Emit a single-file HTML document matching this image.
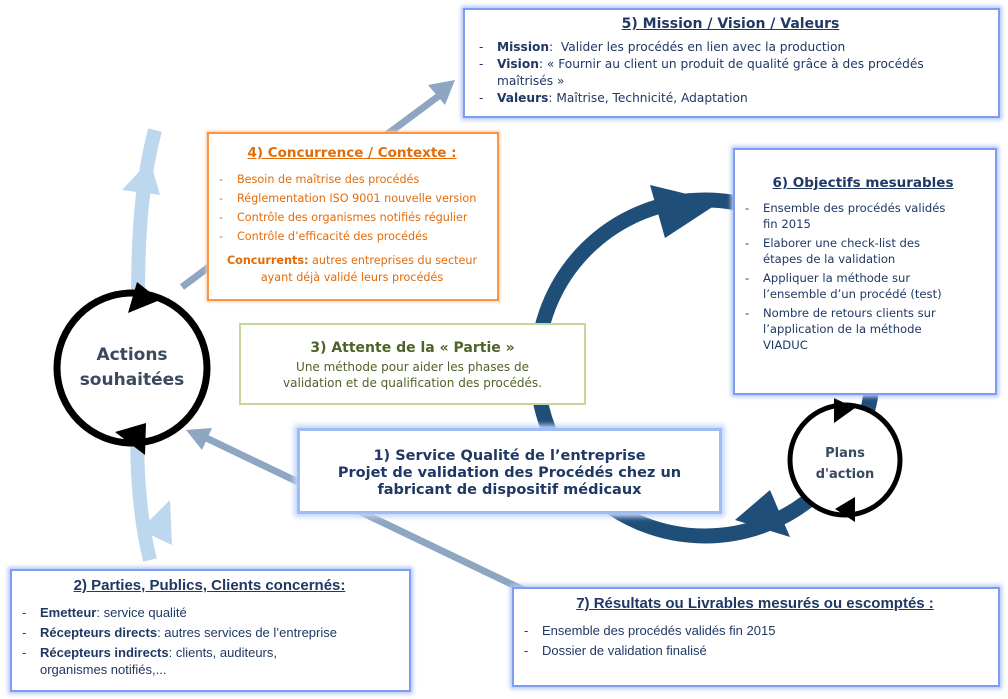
<!DOCTYPE html>
<html><head><meta charset="utf-8"><style>
body{margin:0;width:1008px;height:699px;background:#fff;position:relative;overflow:hidden;font-family:"DejaVu Sans",Verdana,sans-serif;}
.b{position:absolute;background:#fff;box-sizing:border-box;}
.blue{border:2px solid #7f9cf0;box-shadow:0 0 4px 2px #b5c8f7;}
.t{text-align:center;font-weight:bold;text-decoration:underline;}
ul{list-style:none;margin:0;padding:0;}
li{position:relative;padding-left:26px;}
li:before{content:"-";position:absolute;left:8px;}
svg{position:absolute;left:0;top:0;}
</style></head><body>
<svg width="1008" height="699">
 <circle cx="705" cy="368" r="168" fill="none" stroke="#1f4e79" stroke-width="15"/>
 <polygon points="650,185 720,202 665,238" fill="#1f4e79"/>
 <polygon points="770,490 790,537 735,520" fill="#1f4e79"/>
 <path d="M150,560 C140,520 135,470 138,400 L138,300 C138,230 142,180 155,130" fill="none" stroke="#bdd7ee" stroke-width="14"/>
 <polygon points="122,190 150,160 160,195" fill="#bdd7ee"/>
 <polygon points="140,530 170,500 172,545" fill="#bdd7ee"/>
 <line x1="182" y1="287" x2="440" y2="95" stroke="#8ea6c2" stroke-width="7"/>
 <polygon points="455,80 428,85 445,105" fill="#8ea6c2"/>
 <line x1="530" y1="593" x2="200" y2="435" stroke="#8ea6c2" stroke-width="7"/>
 <polygon points="186,430 212,428 202,450" fill="#8ea6c2"/>
 <circle cx="132" cy="368" r="75" fill="#fff" stroke="#000" stroke-width="7"/>
 <polygon points="137,282 160,300 128,313" fill="#000"/>
 <polygon points="146,423 145,455 115,432" fill="#000"/>
 <text x="132" y="360" text-anchor="middle" font-family="DejaVu Sans,sans-serif" font-weight="bold" font-size="17" fill="#3a4a5e">Actions</text>
 <text x="132" y="385" text-anchor="middle" font-family="DejaVu Sans,sans-serif" font-weight="bold" font-size="17" fill="#3a4a5e">souhaitées</text>
 <circle cx="845" cy="460" r="55" fill="#fff" stroke="#000" stroke-width="5"/>
 <polygon points="834,398 855,408 834,423" fill="#000"/>
 <polygon points="855,497 855,522 835,509" fill="#000"/>
 <text x="845" y="457" text-anchor="middle" font-family="DejaVu Sans,sans-serif" font-weight="bold" font-size="13" fill="#3a4a5e">Plans</text>
 <text x="845" y="478" text-anchor="middle" font-family="DejaVu Sans,sans-serif" font-weight="bold" font-size="13" fill="#3a4a5e">d'action</text>
</svg>
<div class="b blue" style="left:463px;top:8px;width:537px;height:110px;color:#1f3864;font-size:12.2px;line-height:17px;padding:6px 8px 0 6px;">
 <div class="t" style="font-size:14px;margin-bottom:6px;">5) Mission / Vision / Valeurs</div>
 <ul><li><b>Mission</b>:&nbsp; Valider les procédés en lien avec la production</li>
 <li><b>Vision</b>: « Fournir au client un produit de qualité grâce à des procédés<br>maîtrisés »</li>
 <li><b>Valeurs</b>: Maîtrise, Technicité, Adaptation</li></ul>
</div>
<div class="b" style="left:207px;top:132px;width:292px;height:169px;border:2px solid #f79646;box-shadow:0 0 3px 1px #fbc9a0;color:#e36c09;font-size:11.2px;line-height:19px;padding:10px 4px 0 2px;">
 <div class="t" style="font-size:13.5px;margin-bottom:7px;">4) Concurrence / Contexte :</div>
 <ul style="white-space:nowrap"><li>Besoin de maîtrise des procédés</li><li>Réglementation ISO 9001 nouvelle version</li><li>Contrôle des organismes notifiés régulier</li><li>Contrôle d’efficacité des procédés</li></ul>
 <div style="text-align:center;margin-top:6px;line-height:17px;"><b>Concurrents:</b> autres entreprises du secteur ayant déjà validé leurs procédés</div>
</div>
<div class="b blue" style="left:733px;top:148px;width:264px;height:247px;color:#1f3864;font-size:11.6px;line-height:16px;padding:25px 6px 0 2px;">
 <div class="t" style="font-size:13.5px;margin-bottom:9px;">6) Objectifs mesurables</div>
 <ul><li style="margin-bottom:3px">Ensemble des procédés validés<br>fin 2015</li><li style="margin-bottom:3px">Elaborer une check-list des<br>étapes de la validation</li><li style="margin-bottom:3px">Appliquer la méthode sur<br>l’ensemble d’un procédé (test)</li><li>Nombre de retours clients sur<br>l’application de la méthode<br>VIADUC</li></ul>
</div>
<div class="b" style="left:239px;top:323px;width:347px;height:82px;border:2px solid #c3d69b;color:#4f6228;text-align:center;font-size:12px;line-height:16px;padding:15px 4px 0 4px;">
 <div style="font-weight:bold;font-size:14px;margin-bottom:3px;">3) Attente de la « Partie »</div>
 Une méthode pour aider les phases de<br>validation et de qualification des procédés.
</div>
<div class="b" style="left:297px;top:428px;width:425px;height:86px;border:3px solid #9fbcf5;box-shadow:0 0 5px 3px #c5d6fa;color:#1f3864;text-align:center;font-weight:bold;font-size:14.5px;line-height:17px;padding:17px 4px 0 4px;">
 1) Service Qualité de l’entreprise<br>Projet de validation des Procédés chez un<br>fabricant de dispositif médicaux
</div>
<div class="b blue" style="left:10px;top:569px;width:401px;height:123px;color:#1f3864;font-family:'Liberation Sans',sans-serif;font-size:13px;line-height:17px;padding:6px 4px 0 2px;">
 <div class="t" style="font-size:15px;margin-bottom:10px;">2) Parties, Publics, Clients concernés:</div>
 <ul><li style="margin-bottom:3px"><b>Emetteur</b>: service qualité</li><li style="margin-bottom:3px"><b>Récepteurs directs</b>: autres services de l’entreprise</li><li><b>Récepteurs indirects</b>: clients, auditeurs,<br>organismes notifiés,...</li></ul>
</div>
<div class="b blue" style="left:512px;top:587px;width:488px;height:100px;color:#1f3864;font-family:'Liberation Sans',sans-serif;font-size:13px;line-height:17px;padding:6px 4px 0 2px;">
 <div class="t" style="font-size:15px;margin-bottom:10px;">7) Résultats ou Livrables mesurés ou escomptés :</div>
 <ul><li style="margin-bottom:3px">Ensemble des procédés validés fin 2015</li><li>Dossier de validation finalisé</li></ul>
</div>
</body></html>
